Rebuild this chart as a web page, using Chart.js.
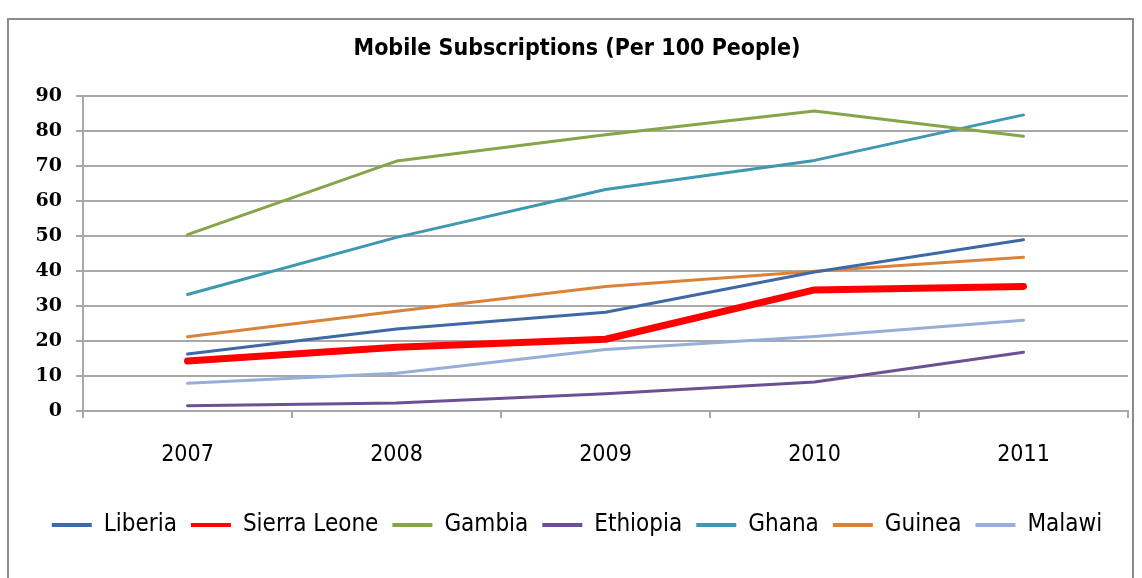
<!DOCTYPE html>
<html>
<head>
<meta charset="utf-8">
<script src="https://cdn.jsdelivr.net/npm/chart.js@4/dist/chart.umd.min.js"></script>
<style>
  html, body { margin: 0; padding: 0; background: #ffffff; }
  #frame {
    position: absolute; left: 7px; top: 18px; width: 1127px; height: 600px;
    border: 2px solid #8c8c8c; box-sizing: border-box;
  }
  #wrap { position: absolute; left: 0; top: 0; width: 1142px; height: 578px; }
</style>
</head>
<body>
<div id="frame"></div>
<div id="wrap"><canvas id="chart" width="1142" height="578"></canvas></div>
<script>
// Mobile subscriptions per 100 people, 2007-2011
const years = ['2007', '2008', '2009', '2010', '2011'];
const liberia     = [16.3, 23.4, 28.2, 39.7, 48.9];
const sierraLeone = [14.3, 18.2, 20.5, 34.6, 35.6];
const gambia      = [50.4, 71.4, 78.9, 85.7, 78.5];
const ethiopia    = [1.5, 2.3, 4.9, 8.3, 16.8];
const ghana       = [33.3, 49.6, 63.3, 71.6, 84.6];
const guinea      = [21.2, 28.5, 35.6, 39.9, 43.9];
const malawi      = [7.9, 10.8, 17.6, 21.3, 25.9];
const yTicks = [0, 10, 20, 30, 40, 50, 60, 70, 80, 90];

const condensed = "'DejaVu Sans Condensed', 'Liberation Sans Narrow', 'DejaVu Sans', sans-serif";
const gridGrey = '#a8a8a8';

function series(label, data, color, width) {
  return {
    label, data,
    borderColor: color, backgroundColor: color,
    borderWidth: width || 3,
    borderCapStyle: 'round', borderJoinStyle: 'round',
    pointRadius: 0, pointHoverRadius: 0, tension: 0, fill: false
  };
}

new Chart(document.getElementById('chart'), {
  type: 'line',
  data: {
    labels: years,
    datasets: [
      series('Liberia', liberia, '#3f68a6'),
      series('Sierra Leone', sierraLeone, '#ff0000', 7),
      series('Gambia', gambia, '#86a548'),
      series('Ethiopia', ethiopia, '#6b5193'),
      series('Ghana', ghana, '#3d98b0'),
      series('Guinea', guinea, '#da8238'),
      series('Malawi', malawi, '#97afd8')
    ]
  },
  options: {
    responsive: false,
    animation: false,
    layout: { padding: { left: 26, right: 14, top: 0, bottom: 31 } },
    plugins: {
      title: {
        display: true,
        text: 'Mobile Subscriptions (Per 100 People)',
        color: '#000000',
        font: { family: condensed, size: 23, weight: 'bold', lineHeight: 1.2 },
        padding: { top: 35, bottom: 33.4 }
      },
      legend: {
        position: 'bottom',
        labels: {
          color: '#000000',
          font: { family: condensed, size: 24 },
          boxWidth: 40,
          boxHeight: 4,
          padding: 14,
          generateLabels(chart) {
            const items = Chart.defaults.plugins.legend.labels.generateLabels(chart);
            items.forEach(it => { it.fillStyle = it.strokeStyle; it.lineWidth = 0; });
            return items;
          }
        }
      },
      tooltip: { enabled: false }
    },
    scales: {
      x: {
        offset: true,
        afterFit(scale) { scale.height = 88; },
        grid: {
          offset: true, drawOnChartArea: false, drawTicks: true,
          tickLength: 7, color: gridGrey, lineWidth: 2
        },
        border: { display: true, color: gridGrey, width: 2 },
        ticks: {
          color: '#000000', padding: 23,
          font: { family: condensed, size: 23 }
        }
      },
      y: {
        min: 0, max: 90,
        afterFit(scale) { scale.width = 57; },
        afterBuildTicks(scale) { scale.ticks = yTicks.map(v => ({ value: v })); },
        grid: { color: gridGrey, lineWidth: 2, tickLength: 7, drawTicks: true },
        border: { display: true, color: gridGrey, width: 2 },
        ticks: {
          color: '#000000', padding: 14,
          font: { family: "'DejaVu Serif', serif", size: 19, weight: 'bold' }
        }
      }
    }
  }
});
</script>
</body>
</html>
